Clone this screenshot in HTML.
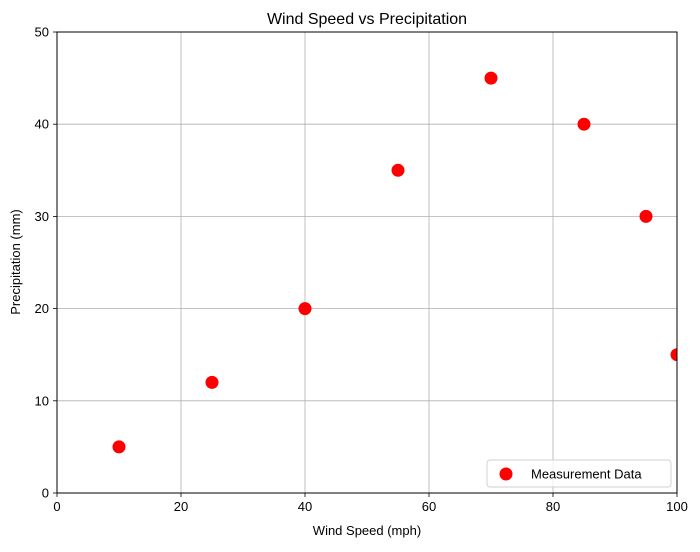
<!DOCTYPE html>
<html><head><meta charset="utf-8"><style>body{margin:0;background:#fff}svg{font-family:"Liberation Sans","DejaVu Sans",sans-serif}</style></head>
<body>
<svg id="c" width="700" height="547" xmlns="http://www.w3.org/2000/svg"></svg>
<script>
const xValues=[10,25,40,55,70,85,95,100];
const yValues=[5,12,20,35,45,40,30,15];
const xTicks=[0,20,40,60,80,100];
const yTicks=[0,10,20,30,40,50];
const L=57,R=677,T=32,B=493;
const sx=v=>L+(v-0)/(100-0)*(R-L);
const sy=v=>B-(v-0)/(50-0)*(B-T);
const svg=document.getElementById('c');
const NS='http://www.w3.org/2000/svg';
function mk(t,a,p){const e=document.createElementNS(NS,t);for(const k in a)e.setAttribute(k,a[k]);(p||svg).appendChild(e);return e;}
const defs=mk('defs',{});const cp=mk('clipPath',{id:'clip'},defs);mk('rect',{x:L,y:T,width:R-L,height:B-T},cp);
const grid=mk('g',{});


xTicks.forEach(v=>{mk('line',{x1:sx(v),x2:sx(v),y1:T,y2:B,stroke:'#b0b0b0','stroke-width':0.8},grid);
const l=mk('line',{x1:sx(v),x2:sx(v),y1:B,y2:B+4,stroke:'#000','stroke-width':0.8});
const t=mk('text',{x:sx(v),y:B+18,'text-anchor':'middle','font-size':13});t.textContent=v;

});
yTicks.forEach(v=>{mk('line',{x1:L,x2:R,y1:sy(v),y2:sy(v),stroke:'#b0b0b0','stroke-width':0.8},grid);
mk('line',{x1:L-4,x2:L,y1:sy(v),y2:sy(v),stroke:'#000','stroke-width':0.8});
const t=mk('text',{x:L-8,y:sy(v)+4.5,'text-anchor':'end','font-size':13});t.textContent=v;

});
const pts=mk('g',{'clip-path':'url(#clip)'});
xValues.forEach((x,i)=>{const c=mk('circle',{cx:sx(x),cy:sy(yValues[i]),r:6.5,fill:'red'},pts);

});
const fr=mk('rect',{x:L,y:T,width:R-L,height:B-T,fill:'none',stroke:'#000','stroke-width':1});


</script>
<svg width="700" height="547" style="position:absolute;left:0;top:0" xmlns="http://www.w3.org/2000/svg">
<text x="367" y="24" text-anchor="middle" font-size="16" font-family="Liberation Sans, sans-serif">Wind Speed vs Precipitation</text>
<text x="367" y="535" text-anchor="middle" font-size="13" font-family="Liberation Sans, sans-serif">Wind Speed (mph)</text>
<text x="20" y="262" text-anchor="middle" font-size="13" font-family="Liberation Sans, sans-serif" transform="rotate(-90 20 262)">Precipitation (mm)</text>
<g>
<rect x="487" y="460" width="184" height="27" rx="3" fill="#fff" fill-opacity="0.8" stroke="#d0d0d0"/>
<circle cx="506" cy="474" r="6.5" fill="red"/>
<text x="531" y="478.5" font-size="13" font-family="Liberation Sans, sans-serif">Measurement Data</text>
</g>
</svg>
</body></html>
